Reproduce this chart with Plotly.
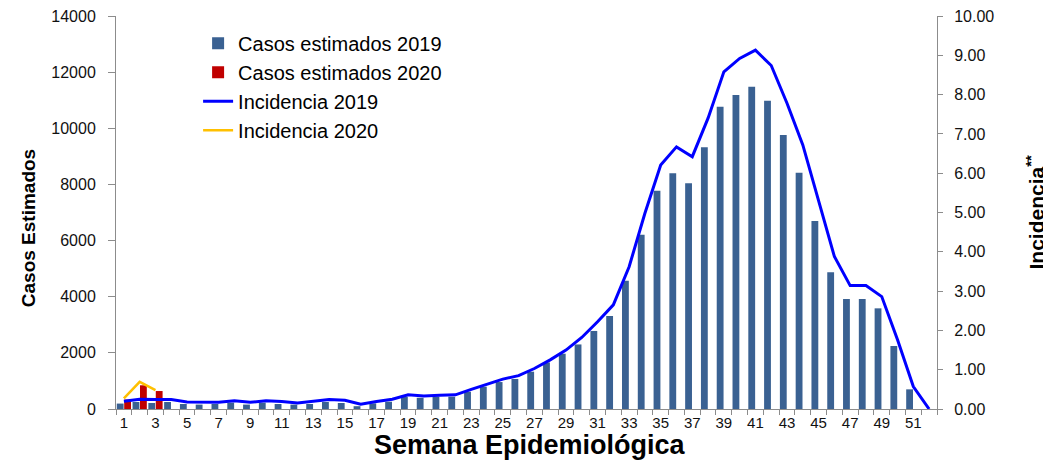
import plotly.graph_objects as go

weeks = list(range(1, 53))

casos_2019 = [193, 250, 214, 250, 178, 157, 178, 228, 157, 228,
              178, 157, 178, 250, 214, 100, 200, 260, 440, 400,
              440, 440, 615, 795, 960, 1070, 1330, 1660, 1970, 2300,
              2780, 3313, 4570, 6210, 7776, 8396, 8040, 9320, 10770, 11185,
              11480, 10980, 9760, 8417, 6697, 4869, 3918, 3918, 3586, 2244,
              700, 0]

weeks_2020 = [1, 2, 3]
casos_2020 = [335, 845, 640]

incid_2019 = [0.20, 0.25, 0.24, 0.24, 0.18, 0.17, 0.17, 0.21, 0.17, 0.21,
              0.19, 0.15, 0.19, 0.24, 0.22, 0.12, 0.19, 0.25, 0.36, 0.33,
              0.35, 0.36, 0.50, 0.64, 0.76, 0.85, 1.03, 1.25, 1.50, 1.82,
              2.22, 2.65, 3.62, 4.98, 6.21, 6.67, 6.42, 7.40, 8.58, 8.92,
              9.13, 8.74, 7.78, 6.72, 5.32, 3.88, 3.14, 3.14, 2.86, 1.76,
              0.57, 0.0]
incid_2020 = [0.27, 0.69, 0.48]

tick_weeks = list(range(1, 53, 2))
tick_labels = [str(w) for w in tick_weeks]
left_ticks = list(range(0, 14001, 2000))
left_labels = [str(v) for v in left_ticks]
right_ticks = list(range(0, 11))
right_labels = ["%.2f" % v for v in right_ticks]

FONT = "Liberation Sans, Arial, sans-serif"
AXIS_GREY = "#8c8c8c"

fig = go.Figure()
fig.add_trace(go.Bar(x=weeks, y=casos_2019, name="Casos estimados 2019",
                     marker=dict(color="#3A6192", line=dict(width=0)),
                     legendgroup="a"))
fig.add_trace(go.Bar(x=weeks_2020, y=casos_2020, name="Casos estimados 2020",
                     marker=dict(color="#C00000", line=dict(width=0)),
                     legendgroup="b"))
fig.add_trace(go.Scatter(x=weeks, y=incid_2019, name="Incidencia 2019", yaxis="y2",
                         mode="lines", line=dict(color="#0000FF", width=3),
                         legendgroup="c"))
fig.add_trace(go.Scatter(x=weeks_2020, y=incid_2020, name="Incidencia 2020", yaxis="y2",
                         mode="lines", line=dict(color="#FFC000", width=2.5),
                         legendgroup="d"))

fig.update_layout(
    width=1043, height=454,
    margin=dict(l=108, r=114, t=8, b=53, autoexpand=False),
    paper_bgcolor="white", plot_bgcolor="white",
    font=dict(family=FONT, color="#111111", size=15),
    barmode="group", bargap=0.06, bargroupgap=0.08,
    showlegend=True,
    legend=dict(x=0.1, y=0.98, xanchor="left", yanchor="top",
                font=dict(size=20, family=FONT, color="#000"),
                bgcolor="rgba(0,0,0,0)", tracegroupgap=0,
                itemwidth=30),
    xaxis=dict(range=[0.5, 52.5], tickmode="array", tickvals=tick_weeks,
               ticktext=tick_labels, ticks="outside", ticklen=0,
               showline=True, linecolor=AXIS_GREY, linewidth=1,
               showgrid=False, zeroline=False, automargin=False,
               tickfont=dict(size=15),
               minor=dict(tickmode="array",
                          tickvals=[w + 0.5 for w in range(0, 53)],
                          ticks="outside", ticklen=5, tickcolor=AXIS_GREY,
                          showgrid=False)),
    yaxis=dict(range=[0, 14000], tickmode="array", tickvals=left_ticks,
               ticktext=left_labels,
               ticks="outside", ticklen=7, tickcolor=AXIS_GREY,
               showline=True, linecolor=AXIS_GREY, linewidth=1,
               showgrid=False, zeroline=False, automargin=False,
               ticklabeloverflow="allow", ticklabelstandoff=9,
               tickfont=dict(size=16)),
    yaxis2=dict(range=[0, 10], overlaying="y", side="right",
                tickmode="array", tickvals=right_ticks, ticktext=right_labels,
                ticks="outside", ticklen=5, tickcolor=AXIS_GREY,
                showline=True, linecolor=AXIS_GREY, linewidth=1,
                showgrid=False, zeroline=False, automargin=False,
                ticklabeloverflow="allow", ticklabelstandoff=8,
                tickfont=dict(size=16)),
    annotations=[
        dict(text="<b>Casos Estimados</b>", xref="paper", yref="paper",
             x=-0.1072, y=0.46, xanchor="center", yanchor="middle",
             textangle=-90, showarrow=False,
             font=dict(family=FONT, size=19, color="#000")),
        dict(text="<b>Incidencia<sup>**</sup></b>", xref="paper", yref="paper",
             x=1.1194, y=0.50, xanchor="center", yanchor="middle",
             textangle=-90, showarrow=False,
             font=dict(family=FONT, size=21, color="#000")),
        dict(text="<b>Semana Epidemiológica</b>", xref="paper", yref="paper",
             x=0.504, y=-0.092, xanchor="center", yanchor="middle",
             showarrow=False,
             font=dict(family=FONT, size=27, color="#000")),
    ],
)

fig.write_html("out.html")
